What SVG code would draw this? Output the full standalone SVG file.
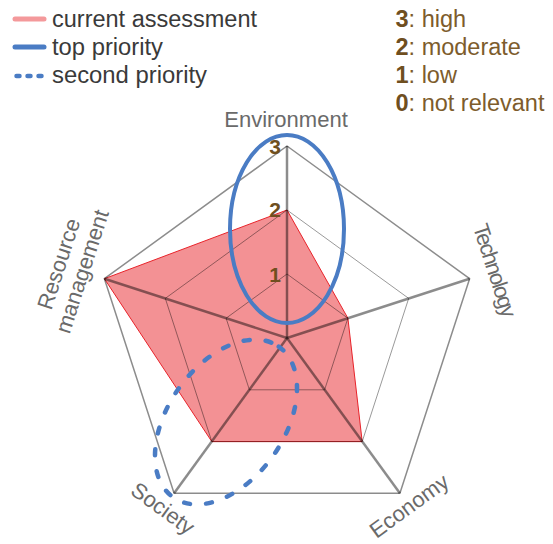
<svg xmlns="http://www.w3.org/2000/svg" width="553" height="544" viewBox="0 0 553 544">
<style>
  .lg { font-family: "Liberation Sans", Arial, sans-serif; font-size: 23.5px; fill: #3a3a3a; }
  .sc { font-family: "Liberation Sans", Arial, sans-serif; font-size: 23.5px; fill: #7d5c2c; }
  .sc tspan.b { font-weight: bold; fill: #6f4f1f; }
  .ax { font-family: "Liberation Sans", Arial, sans-serif; font-size: 22px; fill: #6a6a6a; text-anchor: middle; }
  .num { font-family: "Liberation Sans", Arial, sans-serif; font-size: 21px; font-weight: bold; fill: #6f4f1f; text-anchor: end; }
  .spoke { stroke: #000; stroke-opacity: 0.45; stroke-width: 2.5; fill: none; }
  .lvl { stroke: #000; stroke-opacity: 0.4; stroke-width: 1; fill: none; }
  .outer { stroke: #000; stroke-opacity: 0.45; stroke-width: 1.5; fill: none; stroke-linejoin: round; }
  .prio { stroke: #4a7cc4; stroke-width: 4; fill: none; }
  .prio2 { stroke: #4a7cc4; stroke-width: 4.5; fill: none; stroke-dasharray: 6 16; stroke-linecap: round; }
</style>

<g id="legend">
  <line x1="15" y1="19" x2="44" y2="19" stroke="#f4999b" stroke-width="5" stroke-linecap="round"/>
  <text class="lg" x="52" y="27" textLength="205" lengthAdjust="spacingAndGlyphs">current assessment</text>
  <line x1="15" y1="47" x2="44" y2="47" stroke="#4a7cc4" stroke-width="5" stroke-linecap="round"/>
  <text class="lg" x="52" y="54.5" textLength="111" lengthAdjust="spacingAndGlyphs">top priority</text>
  <line x1="16.5" y1="76" x2="44" y2="76" stroke="#4a7cc4" stroke-width="4.5" stroke-linecap="round" stroke-dasharray="3 8"/>
  <text class="lg" x="52" y="83" textLength="155" lengthAdjust="spacingAndGlyphs">second priority</text>
</g>

<g id="scale">
  <text class="sc" x="395.5" y="27.3"><tspan class="b">3</tspan>: high</text>
  <text class="sc" x="395.5" y="55"><tspan class="b">2</tspan>: moderate</text>
  <text class="sc" x="395.5" y="82.7"><tspan class="b">1</tspan>: low</text>
  <text class="sc" x="395.5" y="110.7"><tspan class="b">0</tspan>: not relevant</text>
</g>

<g id="current-assessment">
  <polygon points="287,210 347.9,318.2 362.2,441.6 211.8,441.6 104.4,278.7" fill="#f39194" stroke="#e8232a" stroke-width="1" stroke-linejoin="round"/>
</g>

<g id="grid">
  <polygon class="lvl" points="287,274 347.9,318.2 324.6,389.8 249.4,389.8 226.1,318.2"/>
  <polygon class="lvl" points="287,210 408.7,298.4 362.2,441.6 211.8,441.6 165.3,298.4"/>
  <polygon class="outer" points="287,146 469.6,278.7 399.9,493.3 174.1,493.3 104.4,278.7"/>
  <line class="spoke" x1="287" y1="338" x2="287" y2="146"/>
  <line class="spoke" x1="287" y1="338" x2="469.6" y2="278.7"/>
  <line class="spoke" x1="287" y1="338" x2="399.9" y2="493.3"/>
  <line class="spoke" x1="287" y1="338" x2="174.1" y2="493.3"/>
  <line class="spoke" x1="287" y1="338" x2="104.4" y2="278.7"/>
</g>

<g id="axis-labels">
  <text id="environment" class="ax" x="286" y="126.7">Environment</text>
  <text id="technology" class="ax" transform="translate(487.7 272.8) rotate(72)" x="0" y="0" textLength="97" lengthAdjust="spacing">Technology</text>
  <text id="economy" class="ax" transform="translate(413.5 512) rotate(-36)" x="0" y="0">Economy</text>
  <text id="society" class="ax" transform="translate(158.5 514.5) rotate(36)" x="0" y="0">Society</text>
  <g id="resource-management" transform="translate(72.1 268.2) rotate(-72)">
    <text class="ax" x="0" y="-6.5">Resource</text>
    <text class="ax" x="0" y="18">management</text>
  </g>
</g>

<g id="top-priority">
  <ellipse class="prio" cx="287" cy="229" rx="57" ry="94"/>
</g>

<g id="second-priority">
  <ellipse class="prio2" cx="226" cy="422" rx="92" ry="58" transform="rotate(-55 226 422)"/>
</g>

<g id="level-numbers">
  <text class="num" x="281" y="153.5">3</text>
  <text class="num" x="281" y="217">2</text>
  <text class="num" x="281" y="281.5">1</text>
</g>
</svg>
